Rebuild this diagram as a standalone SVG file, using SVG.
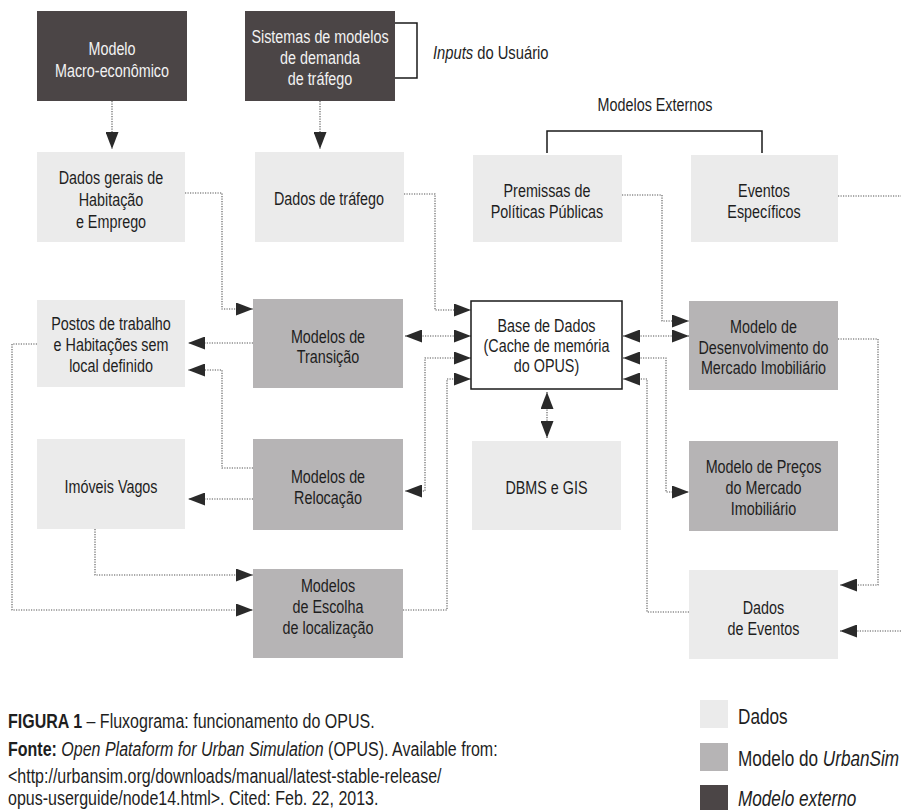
<svg xmlns="http://www.w3.org/2000/svg" width="901" height="810" viewBox="0 0 901 810">
<defs>
<style>
text{font-family:"Liberation Sans",Arial,sans-serif;font-size:17.5px;fill:#1e1e1e;text-anchor:middle;transform-box:fill-box;transform-origin:center;transform:scaleX(0.82)}
.ext rect{fill:#4b4546}
.ext text{fill:#f2f2f2}
.mod rect{fill:#b6b4b5}
.dat rect{fill:#ebebeb}
.db rect{fill:#ffffff;stroke:#1a1a1a;stroke-width:1.5}
.dot{fill:none;stroke:#555;stroke-width:1.1;stroke-dasharray:1.2 1.3}
.solid{fill:none;stroke:#1a1a1a;stroke-width:1.5}
.cap{text-anchor:start;transform-origin:left center}
#caption text{font-size:20px;transform:scaleX(0.8)}
#legend text{font-size:22px;transform:scaleX(0.78)}
</style>
<marker id="ah" viewBox="0 0 17 13" markerWidth="17" markerHeight="13" refX="17" refY="6.5" orient="auto-start-reverse" markerUnits="userSpaceOnUse">
<path d="M0,0 L17,6.5 L0,13 Z" fill="#2a2a2a"/>
</marker>
</defs>
<rect width="901" height="810" fill="#ffffff"/>

<g id="connectors">
<path class="dot" d="M112,101 V149" marker-end="url(#ah)"/>
<path class="dot" d="M320,101 V149" marker-end="url(#ah)"/>
<path class="dot" d="M185,193 H222 V309 H253" marker-end="url(#ah)"/>
<path class="dot" d="M404,194 H435 V310 H471" marker-end="url(#ah)"/>
<path class="dot" d="M405,336 H471" marker-start="url(#ah)" marker-end="url(#ah)"/>
<path class="dot" d="M253,343 H188" marker-end="url(#ah)"/>
<path class="dot" d="M253,468 H222 V370 H188" marker-end="url(#ah)"/>
<path class="dot" d="M253,499 H188" marker-end="url(#ah)"/>
<path class="dot" d="M37,344 H12 V610 H253" marker-end="url(#ah)"/>
<path class="dot" d="M95,529 V575 H253" marker-end="url(#ah)"/>
<path class="dot" d="M471,358 H425 V491 H405" marker-start="url(#ah)" marker-end="url(#ah)"/>
<path class="dot" d="M403,610 H447 V379 H471" marker-end="url(#ah)"/>
<path class="dot" d="M547,392 V438" marker-start="url(#ah)" marker-end="url(#ah)"/>
<path class="dot" d="M622,195 H662 V321 H689" marker-end="url(#ah)"/>
<path class="dot" d="M623,336 H689" marker-start="url(#ah)" marker-end="url(#ah)"/>
<path class="dot" d="M623,358 H666 V492 H689" marker-start="url(#ah)" marker-end="url(#ah)"/>
<path class="dot" d="M689,612 H647 V379 H623" marker-end="url(#ah)"/>
<path class="dot" d="M838,339 H878 V585 H840" marker-end="url(#ah)"/>
<path class="dot" d="M838,196 H901"/>
<path class="dot" d="M901,631 H840" marker-end="url(#ah)"/>
<path class="solid" d="M395,23 H417 V78 H395"/>
<path class="solid" d="M547,153 V131 H762 V153"/>
</g>

<g id="n-macro" class="ext"><rect x="37" y="11" width="150" height="90"/><text x="112" y="55">Modelo</text><text x="112" y="77">Macro-econômico</text></g>
<g id="n-sistemas" class="ext"><rect x="245" y="11" width="150" height="90"/><text x="320" y="43">Sistemas de modelos</text><text x="320" y="64">de demanda</text><text x="320" y="85">de tráfego</text></g>
<g id="lbl-inputs"><text class="cap" x="433" y="59" style="font-size:18px"><tspan font-style="italic">Inputs</tspan> do Usuário</text></g>
<g id="lbl-externos"><text x="655" y="111">Modelos Externos</text></g>

<g id="n-dadosgerais" class="dat"><rect x="37" y="152" width="148" height="90"/><text x="111" y="184">Dados gerais de</text><text x="111" y="206">Habitação</text><text x="111" y="228">e Emprego</text></g>
<g id="n-trafego" class="dat"><rect x="255" y="152" width="149" height="90"/><text x="329" y="205">Dados de tráfego</text></g>
<g id="n-premissas" class="dat"><rect x="473" y="155" width="149" height="87"/><text x="547" y="197">Premissas de</text><text x="547" y="218">Políticas Públicas</text></g>
<g id="n-eventos" class="dat"><rect x="691" y="155" width="147" height="87"/><text x="764" y="197">Eventos</text><text x="764" y="218">Específicos</text></g>

<g id="n-postos" class="dat"><rect x="37" y="300" width="148" height="87"/><text x="111" y="330">Postos de trabalho</text><text x="111" y="351">e Habitações sem</text><text x="111" y="372">local definido</text></g>
<g id="n-transicao" class="mod"><rect x="253" y="299" width="150" height="89"/><text x="328" y="343">Modelos de</text><text x="328" y="363">Transição</text></g>
<g id="n-base" class="db"><rect x="471" y="301" width="151" height="88"/><text x="546.5" y="332">Base de Dados</text><text x="546.5" y="352">(Cache de memória</text><text x="546.5" y="372">do OPUS)</text></g>
<g id="n-desenv" class="mod"><rect x="689" y="301" width="149" height="89"/><text x="763.5" y="333">Modelo de</text><text x="763.5" y="354">Desenvolvimento do</text><text x="763.5" y="374">Mercado Imobiliário</text></g>

<g id="n-imoveis" class="dat"><rect x="37" y="439" width="148" height="90"/><text x="111" y="493">Imóveis Vagos</text></g>
<g id="n-relocacao" class="mod"><rect x="253" y="439" width="150" height="91"/><text x="328" y="483">Modelos de</text><text x="328" y="504">Relocação</text></g>
<g id="n-dbms" class="dat"><rect x="472" y="441" width="149" height="89"/><text x="546.5" y="494">DBMS e GIS</text></g>
<g id="n-precos" class="mod"><rect x="689" y="441" width="149" height="90"/><text x="763.5" y="473">Modelo de Preços</text><text x="763.5" y="494">do Mercado</text><text x="763.5" y="515">Imobiliário</text></g>

<g id="n-escolha" class="mod"><rect x="253" y="569" width="150" height="89"/><text x="328" y="592">Modelos</text><text x="328" y="613">de Escolha</text><text x="328" y="634">de localização</text></g>
<g id="n-dadoseventos" class="dat"><rect x="689" y="570" width="149" height="89"/><text x="763.5" y="614">Dados</text><text x="763.5" y="635">de Eventos</text></g>

<g id="caption">
<text class="cap" x="8" y="728"><tspan font-weight="bold">FIGURA 1</tspan> – Fluxograma: funcionamento do OPUS.</text>
<text class="cap" x="8" y="756"><tspan font-weight="bold">Fonte:</tspan> <tspan font-style="italic">Open Plataform for Urban Simulation</tspan> (OPUS). Available from:</text>
<text class="cap" x="8" y="783">&lt;http://urbansim.org/downloads/manual/latest-stable-release/</text>
<text class="cap" x="8" y="805">opus-userguide/node14.html&gt;. Cited: Feb. 22, 2013.</text>
</g>

<g id="legend">
<rect x="700" y="700" width="28" height="28" fill="#ebebeb"/>
<text class="cap" x="738" y="724">Dados</text>
<rect x="700" y="743" width="28" height="28" fill="#b6b4b5"/>
<text class="cap" x="738" y="766">Modelo do <tspan font-style="italic">UrbanSim</tspan></text>
<rect x="700" y="785" width="28" height="28" fill="#4b4546"/>
<text class="cap" x="738" y="806" font-style="italic">Modelo externo</text>
</g>
</svg>
